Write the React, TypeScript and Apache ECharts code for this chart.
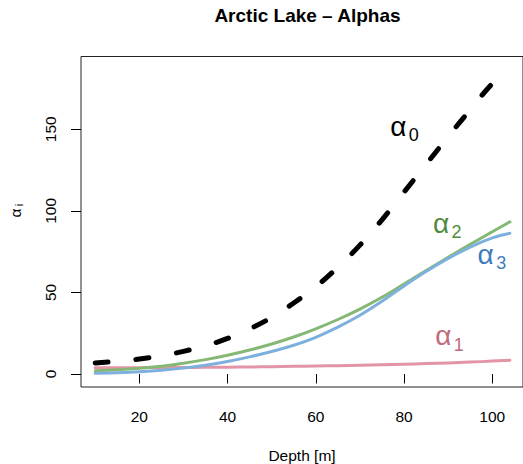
import React, { useEffect, useRef } from "react";
import * as echarts from "echarts";

// Depth [m]
const depth = [10, 15, 20, 25, 30, 35, 40, 45, 50, 55, 60, 65, 70, 75, 80, 85, 90, 95, 100, 104];
// alpha_0 (black dashed)
const alpha0 = [6.8, 7.8, 9.2, 11.2, 13.9, 17.3, 21.8, 27.6, 34.7, 43.5, 53.5, 65.5, 79, 94.5, 111.5, 128.5, 145.5, 162, 178, 188];
// alpha_1 (pink)
const alpha1 = [3.9, 3.9, 3.9, 3.95, 4.0, 4.1, 4.2, 4.3, 4.5, 4.7, 4.9, 5.1, 5.4, 5.7, 6.0, 6.4, 6.8, 7.3, 7.9, 8.5];
// alpha_2 (green)
const alpha2 = [2.0, 2.6, 3.5, 4.8, 6.6, 8.8, 11.5, 14.7, 18.4, 22.7, 27.7, 33.4, 39.8, 47.0, 55.2, 63.4, 71.5, 79.5, 87.2, 93.3];
// alpha_3 (blue)
const alpha3 = [0.4, 0.8, 1.4, 2.3, 3.6, 5.4, 7.7, 10.5, 13.8, 17.6, 22.5, 28.7, 36.0, 44.6, 54.0, 62.8, 70.8, 77.8, 83.4, 86.3];

const xTicks = [20, 40, 60, 80, 100];
const yTicks = [0, 50, 100, 150];

// label anchors (data coords of the alpha glyph centre)
const labelSubs = ["0", "1", "2", "3"];
const labelX = [78.7, 88.9, 88.4, 98.5];
const labelY = [150.4, 21.8, 91.0, 72.0];
const labelColors = ["#000000", "#BF6A7E", "#4E8B3C", "#3E7DB8"];

const lineColors = ["#000000", "#E495A5", "#86B875", "#7DB0DD"];

const FONT = "'Liberation Sans', Arial, Helvetica, sans-serif";

export default function App() {
  const ref = useRef<HTMLDivElement>(null);
  useEffect(() => {
    document.body.style.margin = "0";
    const chart = echarts.init(ref.current!, undefined, { renderer: "svg" });
    const pairs = (ys: number[]) => depth.map((d, i) => [d, ys[i]]);
    const baseLine = (name: string, ys: number[], color: string, extra: any = {}) => ({
      type: "line",
      name,
      data: pairs(ys),
      showSymbol: false,
      smooth: 0.4,
      lineStyle: { color, width: 3, cap: "round", join: "round", ...extra },
      emphasis: { disabled: true },
      silent: true,
    });
    chart.setOption({
      animation: false,
      backgroundColor: "#ffffff",
      title: {
        text: "Arctic Lake \u2013 Alphas",
        left: 302.5,
        top: 1,
        textAlign: "center",
        textStyle: { fontFamily: FONT, fontSize: 19, fontWeight: "bold", color: "#000" },
      },
      grid: {
        left: 81,
        top: 56.5,
        width: 442,
        height: 330.5,
        show: true,
        borderColor: "#222",
        borderWidth: 1,
        backgroundColor: "transparent",
        containLabel: false,
        outerBoundsMode: "none",
      },
      xAxis: {
        type: "value",
        min: 6.79,
        max: 106.96,
        axisLine: { show: false },
        splitLine: { show: false },
        axisTick: { show: true, customValues: xTicks, length: 9.5, lineStyle: { color: "#000", width: 1 } },
        axisLabel: { customValues: xTicks, fontSize: 15.5, margin: 21, color: "#000", fontFamily: FONT },
        name: "Depth [m]",
        nameLocation: "middle",
        nameGap: 60,
        nameTextStyle: { fontSize: 15.5, color: "#000", fontFamily: FONT },
      },
      yAxis: {
        type: "value",
        min: -7.97,
        max: 194.6,
        axisLine: { show: false },
        splitLine: { show: false },
        axisTick: { show: true, customValues: yTicks, length: 10, lineStyle: { color: "#000", width: 1 } },
        axisLabel: { customValues: yTicks, fontSize: 15.5, margin: 23, rotate: 90, color: "#000", fontFamily: FONT },
      },
      series: [
        baseLine("alpha1", alpha1, lineColors[1]),
        baseLine("alpha2", alpha2, lineColors[2]),
        baseLine("alpha3", alpha3, lineColors[3]),
        baseLine("alpha0", alpha0, lineColors[0], { width: 5, type: [13, 28] }),
      ],
    });

    const graphics: any[] = [];
    labelSubs.forEach((s, i) => {
      const p = chart.convertToPixel({ gridIndex: 0 }, [labelX[i], labelY[i]]) as number[];
      graphics.push({
        type: "text",
        x: p[0],
        y: p[1] - 2.5,
        silent: true,
        style: { text: "\u03b1", fontSize: 28, fontFamily: FONT, fill: labelColors[i], align: "center", verticalAlign: "middle" },
      });
      graphics.push({
        type: "text",
        x: p[0] + 10.5,
        y: p[1] + 6.5,
        silent: true,
        style: { text: s, fontSize: 18, fontFamily: FONT, fill: labelColors[i], align: "left", verticalAlign: "middle" },
      });
    });
    // y-axis name alpha_i (rotated)
    graphics.push({
      type: "text",
      x: 15,
      y: 213,
      rotation: Math.PI / 2,
      silent: true,
      style: { text: "\u03b1", fontSize: 15.5, fontFamily: FONT, fill: "#000", align: "center", verticalAlign: "middle" },
    });
    graphics.push({
      type: "text",
      x: 18.5,
      y: 205,
      rotation: Math.PI / 2,
      silent: true,
      style: { text: "i", fontSize: 11, fontFamily: FONT, fill: "#000", align: "center", verticalAlign: "middle" },
    });
    chart.setOption({ graphic: graphics });

    return () => chart.dispose();
  }, []);
  return <div ref={ref} style={{ width: 523, height: 464 }} />;
}
